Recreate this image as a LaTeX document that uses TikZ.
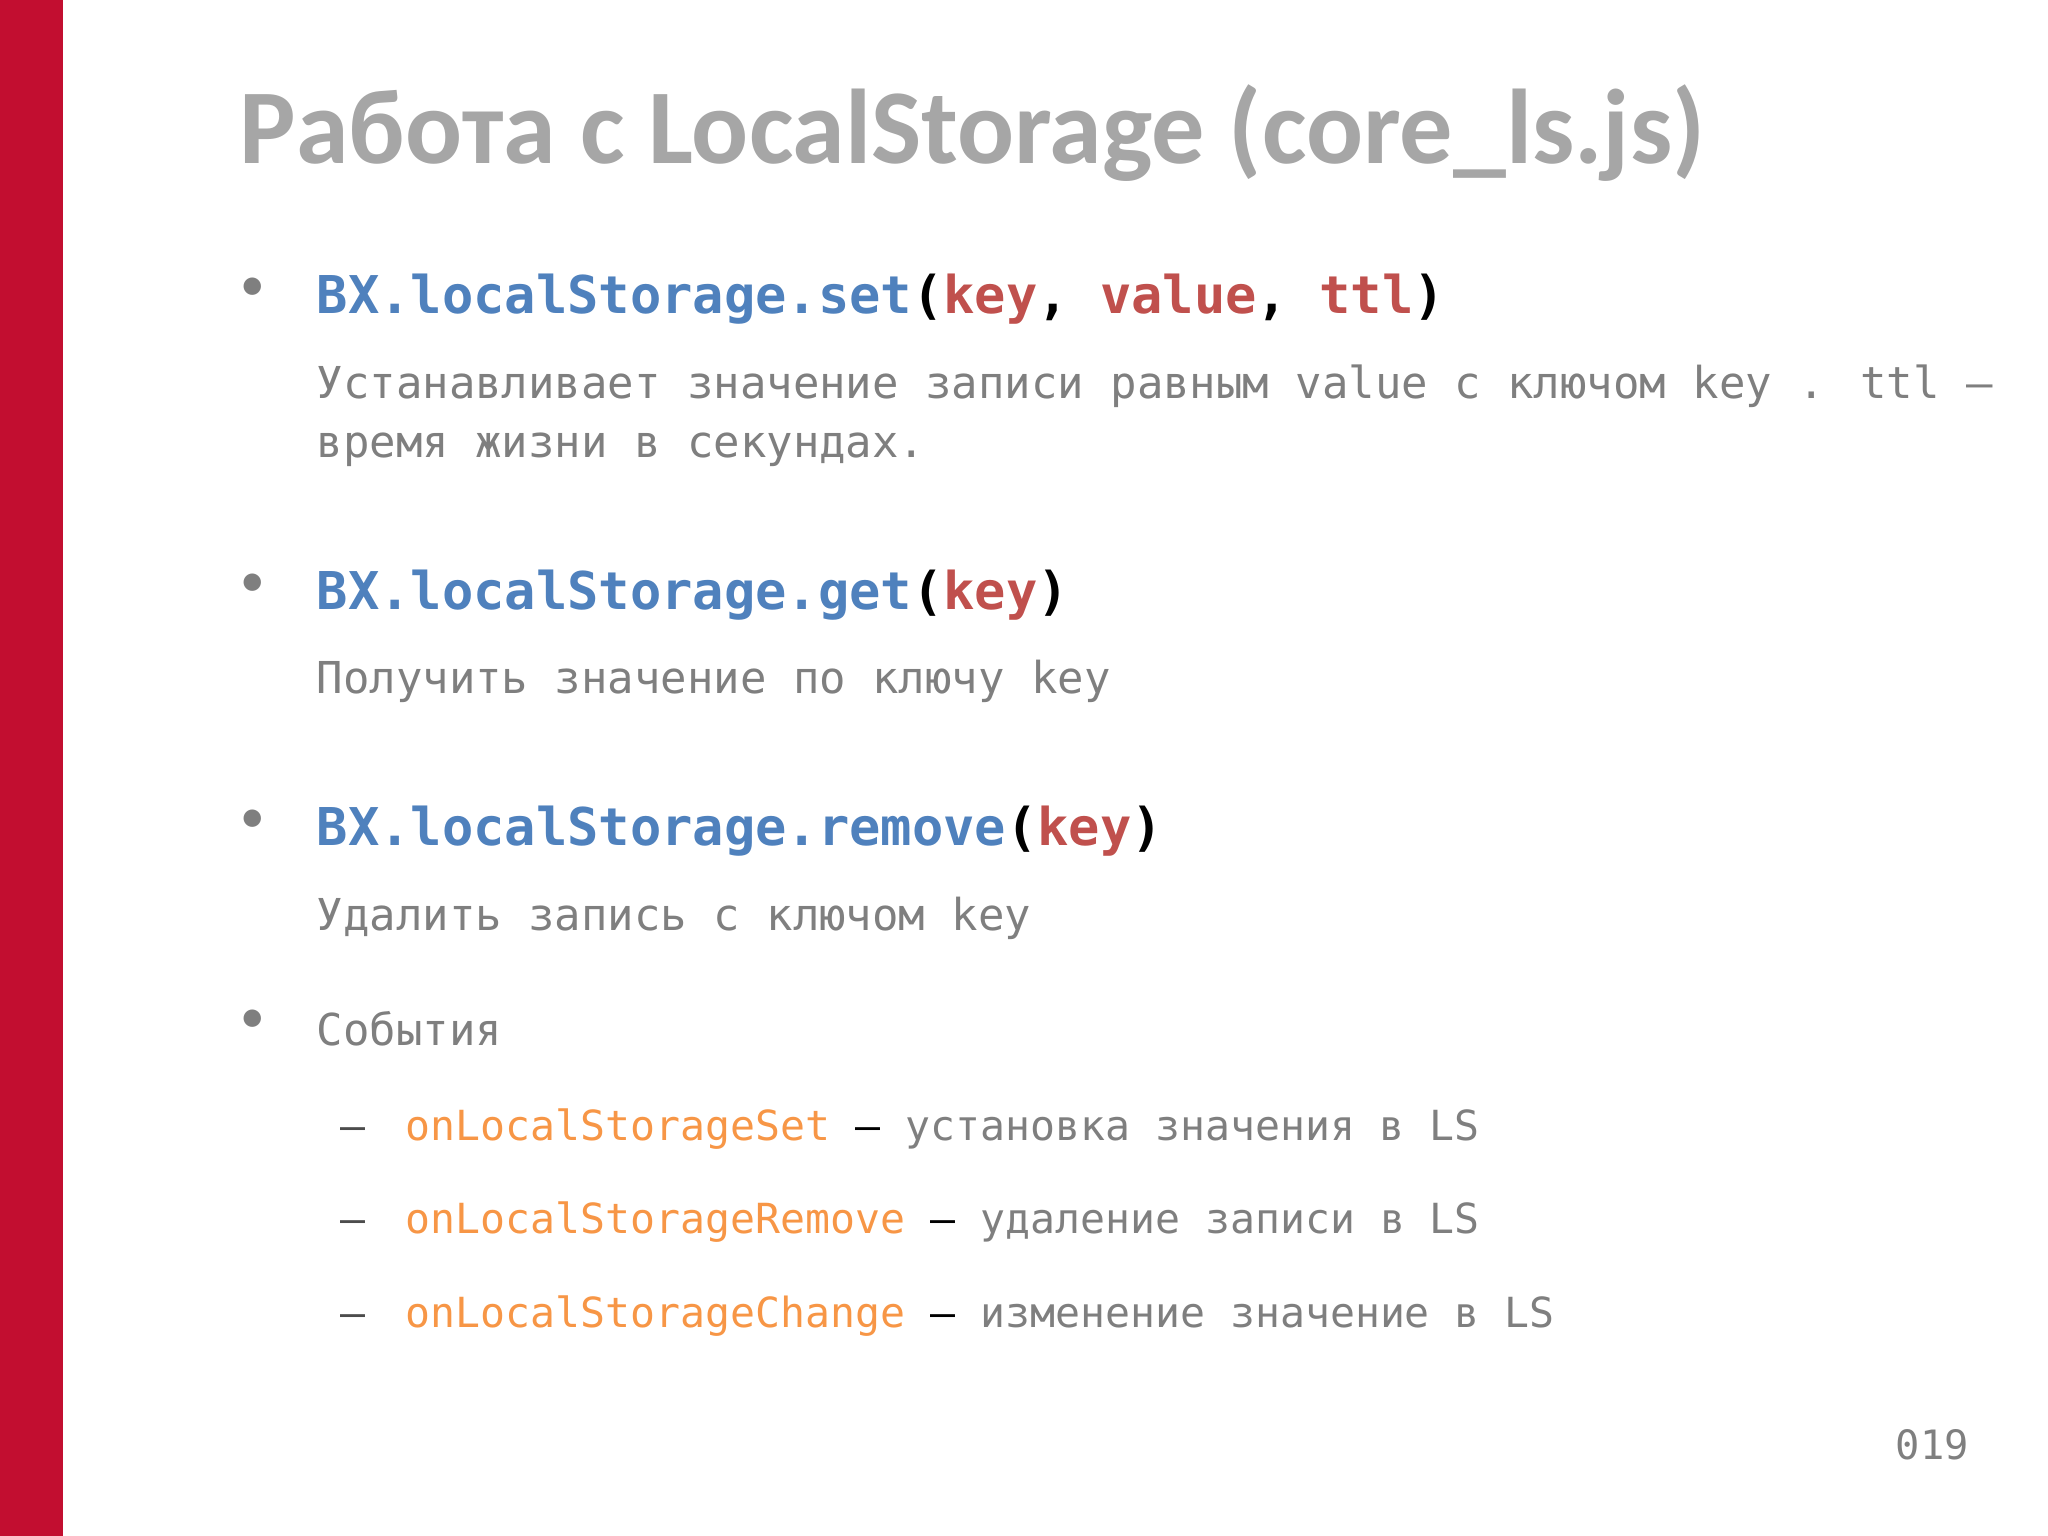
\documentclass[tikz,border=0pt]{standalone}
\usepackage{fontspec}
\setmainfont{Carlito}
\newfontfamily\codef{DejaVu Sans Mono}
\definecolor{barred}{HTML}{C20E30}
\definecolor{titlegrey}{HTML}{A6A6A6}
\definecolor{txtgrey}{HTML}{7F7F7F}
\definecolor{cblue}{HTML}{4F81BD}
\definecolor{cred}{HTML}{C0504D}
\definecolor{corange}{HTML}{F79646}
\tikzset{
 t/.style={anchor=base west,inner sep=0pt},
 codeline/.style={t,font=\codef\bfseries\fontsize{14.8}{16}\selectfont},
 desc/.style={t,text=txtgrey,font=\codef\fontsize{12.5}{15}\selectfont},
 ev/.style={t,text=txtgrey,font=\codef\fontsize{11.8}{14}\selectfont},
 bul/.style={t,text=txtgrey,font=\fontsize{14}{16}\selectfont}
}
\begin{document}
\begin{tikzpicture}[x=0.01cm,y=-0.01cm]
\useasboundingbox (0,0) rectangle (2048,1536);
\fill[barred] (0,0) rectangle (63,1536);
\node[t,text=titlegrey,font=\bfseries\fontsize{30.2}{36}\selectfont] (title) at (239,163) {Работа с LocalStorage (core\_ls.js)};

\node[bul] (b1) at (240,300) {•};
\node[codeline] (c1) at (316,313) {\textcolor{cblue}{BX.localStorage.set}(\textcolor{cred}{key}, \textcolor{cred}{value}, \textcolor{cred}{ttl})};
\node[desc] (d1a) at (316,398) {Устанавливает значение записи равным value с ключом key . ttl –};
\node[desc] (d1b) at (316,457) {время жизни в секундах.};

\node[bul] (b2) at (240,596) {•};
\node[codeline] (c2) at (316,609) {\textcolor{cblue}{BX.localStorage.get}(\textcolor{cred}{key})};
\node[desc] (d2) at (316,693) {Получить значение по ключу key};

\node[bul] (b3) at (240,832) {•};
\node[codeline] (c3) at (316,845) {\textcolor{cblue}{BX.localStorage.remove}(\textcolor{cred}{key})};
\node[desc] (d3) at (316,930) {Удалить запись с ключом key};

\node[bul] (b4) at (240,1032) {•};
\node[desc] (d4) at (316,1045) {События};

\node[ev,text=black!70] (e1d) at (340,1140) {—};
\node[ev] (e1) at (405,1140) {\textcolor{corange}{onLocalStorageSet} \textcolor{black}{–} установка значения в LS};
\node[ev,text=black!70] (e2d) at (340,1233) {—};
\node[ev] (e2) at (405,1233) {\textcolor{corange}{onLocalStorageRemove} \textcolor{black}{–} удаление записи в LS};
\node[ev,text=black!70] (e3d) at (340,1327) {—};
\node[ev] (e3) at (405,1327) {\textcolor{corange}{onLocalStorageChange} \textcolor{black}{–} изменение значение в LS};

\node[ev,font=\codef\fontsize{11.5}{14}\selectfont] (pg) at (1895,1459) {019};
\end{tikzpicture}
\end{document}
